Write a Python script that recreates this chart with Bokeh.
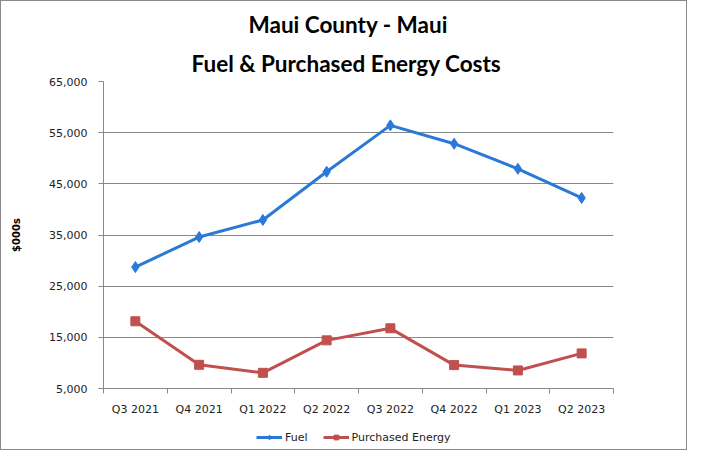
from bokeh.plotting import figure
from bokeh.layouts import column
from bokeh.models import (FixedTicker, NumeralTickFormatter, Range1d, Title,
                          Legend, LegendItem)
from bokeh.embed import file_html
from bokeh.resources import INLINE

quarters = ["Q3 2021", "Q4 2021", "Q1 2022", "Q2 2022",
            "Q3 2022", "Q4 2022", "Q1 2023", "Q2 2023"]
fuel = [28730, 34600, 37940, 47350, 56430, 52840, 47940, 42250]
purchased = [18140, 9630, 8060, 14410, 16760, 9570, 8530, 11860]
y_ticks = [5000, 15000, 25000, 35000, 45000, 55000, 65000]
series_names = ["Fuel", "Purchased Energy"]

BLUE = "#2A79D8"
RED = "#C0504D"
GRID = "#888888"
FONT = "DejaVu Sans"
TFONT = "Lato"
TXT = "#222222"

x = [i + 0.5 for i in range(len(quarters))]
bounds = list(range(len(quarters) + 1))

p = figure(width=685, height=424, output_backend="svg", toolbar_location=None,
           x_range=Range1d(0, len(quarters)), y_range=Range1d(y_ticks[0], y_ticks[-1]),
           min_border_left=102, min_border_right=73, min_border_top=80,
           min_border_bottom=37, title=None)
p.outline_line_color = None
p.background_fill_color = "white"
p.border_fill_color = "white"

# titles (first added is nearest the frame)
t2 = Title(text="Fuel & Purchased Energy Costs", align="left", offset=88,
           text_font=TFONT, text_font_size="22.5px", text_font_style="bold",
           text_color="black")
t1 = Title(text="Maui County - Maui", align="left", offset=145,
           text_font=TFONT, text_font_size="22.5px", text_font_style="bold",
           text_color="black")
p.add_layout(t2, "above")
p.add_layout(t1, "above")

# axes
xa = p.xaxis[0]
xa.ticker = FixedTicker(ticks=x, minor_ticks=bounds)
xa.major_label_overrides = {xi: q for xi, q in zip(x, quarters)}
xa.major_tick_in = 0
xa.major_tick_out = 0
xa.minor_tick_in = 0
xa.minor_tick_out = 5
xa.minor_tick_line_color = GRID
xa.axis_line_color = GRID
xa.major_label_standoff = 9
xa.major_label_text_font = FONT
xa.major_label_text_font_size = "11px"
xa.major_label_text_color = TXT

ya = p.yaxis[0]
ya.ticker = FixedTicker(ticks=y_ticks)
ya.formatter = NumeralTickFormatter(format="0,0")
ya.major_tick_in = 0
ya.major_tick_out = 5
ya.major_tick_line_color = GRID
ya.minor_tick_line_color = None
ya.axis_line_color = GRID
ya.major_label_standoff = 11
ya.major_label_text_font = FONT
ya.major_label_text_font_size = "11px"
ya.major_label_text_color = TXT
ya.axis_label = "$000s"
ya.axis_label_text_font = FONT
ya.axis_label_text_font_size = "10px"
ya.axis_label_text_font_style = "bold"
ya.axis_label_text_color = "black"
ya.axis_label_standoff = 24

p.xgrid.visible = False
p.ygrid.ticker = FixedTicker(ticks=y_ticks)
p.ygrid.grid_line_color = GRID
p.ygrid.grid_line_width = 1

# series
p.line(x, fuel, line_color=BLUE, line_width=3)
p.scatter(x, fuel, marker="diamond", size=11, fill_color=BLUE, line_color=BLUE)
p.line(x, purchased, line_color=RED, line_width=3)
p.scatter(x, purchased, marker="square", size=9, fill_color=RED, line_color=RED)

# legend strip (separate small figure below the chart; its key renderers
# hold one point each, outside the strip's range, so only the keys show)
lg = figure(width=685, height=24, output_backend="svg", toolbar_location=None,
            x_range=Range1d(0, 1), y_range=Range1d(-2, -1),
            x_axis_location=None, y_axis_location=None,
            min_border=0, title=None)
lg.outline_line_color = None
lg.grid.visible = False
k1 = lg.line(x[:1], fuel[:1], line_color=BLUE, line_width=3)
m1 = lg.scatter(x[:1], fuel[:1], marker="diamond", size=11, fill_color=BLUE, line_color=BLUE)
k2 = lg.line(x[:1], purchased[:1], line_color=RED, line_width=3)
m2 = lg.scatter(x[:1], purchased[:1], marker="square", size=9, fill_color=RED, line_color=RED)
legend = Legend(items=[LegendItem(label=series_names[0], renderers=[k1, m1]),
                       LegendItem(label=series_names[1], renderers=[k2, m2])],
                orientation="horizontal", location=(153, 3),
                label_text_font=FONT, label_text_font_size="11px",
                label_text_color=TXT, label_height=18,
                glyph_width=26, glyph_height=12, label_standoff=3, spacing=15,
                border_line_color=None, background_fill_alpha=0,
                padding=2, margin=0)
lg.add_layout(legend, "center")

layout = column(p, lg, spacing=0)
layout.styles = {"border": "1px solid #898989"}
open("out.html", "w").write(file_html(layout, INLINE))
